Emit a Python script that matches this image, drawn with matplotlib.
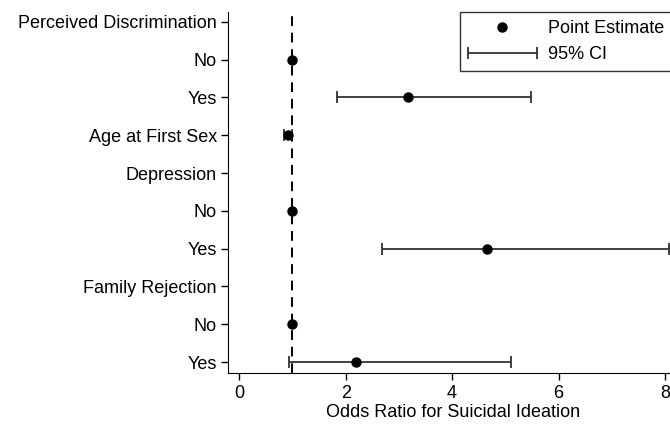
import numpy as np
import matplotlib.pyplot as plt
from matplotlib.lines import Line2D
from matplotlib.legend_handler import HandlerLine2D

plt.rcParams['font.family'] = ['Liberation Sans', 'DejaVu Sans']

# rows, top to bottom
labels = ['Perceived Discrimination', 'No', 'Yes', 'Age at First Sex',
          'Depression', 'No', 'Yes', 'Family Rejection', 'No', 'Yes']
est = [np.nan, 1.0, 3.17, 0.915, np.nan, 1.0, 4.66, np.nan, 1.0, 2.19]
ci_lo = [np.nan, np.nan, 1.83, 0.84, np.nan, np.nan, 2.68, np.nan, np.nan, 0.93]
ci_hi = [np.nan, np.nan, 5.48, 0.99, np.nan, np.nan, 8.07, np.nan, np.nan, 5.11]

est = np.array(est)
ci_lo = np.array(ci_lo)
ci_hi = np.array(ci_hi)
ypos = np.arange(len(labels))

W, H = 670, 424
fig = plt.figure(figsize=(W / 100, H / 100), dpi=100)
# axes run off the right edge of the figure (chart was cropped)
ax = fig.add_axes([228 / W, (H - 373) / H, 469 / W, 361 / H])

has_ci = ~np.isnan(ci_lo)
ax.errorbar(est[has_ci], ypos[has_ci],
            xerr=[est[has_ci] - ci_lo[has_ci], ci_hi[has_ci] - est[has_ci]],
            fmt='none', ecolor='#333333', elinewidth=1.3, capsize=4, capthick=1.3)
ax.plot(est, ypos, 'o', color='black', markersize=6.5, linestyle='none')
ax.axvline(1, color='black', linestyle=(0, (5, 3.5)), linewidth=1.4)

ax.set_xlim(-0.21, 8.6)
ax.set_ylim(9.29, -0.26)
ax.set_yticks(ypos)
ax.set_yticklabels(labels, fontsize=13)
ax.set_xticks([0, 2, 4, 6, 8])
ax.tick_params(axis='x', labelsize=13, length=5, width=1, direction='out', pad=4)
ax.tick_params(axis='y', length=5, width=1, direction='out', pad=3)
ax.spines['top'].set_visible(False)
ax.spines['right'].set_visible(False)
ax.set_xlabel('Odds Ratio for Suicidal Ideation', fontsize=13)
ax.xaxis.set_label_coords((453 - 228) / 469, -0.085)
ax.xaxis.label.set_va('top')

pt = Line2D([], [], marker='o', color='black', linestyle='none', markersize=6.5)
ci = Line2D([], [], color='#333333', linewidth=1.3, marker='|', markersize=9,
            markeredgewidth=1.3)
leg = fig.legend([pt, ci], ['Point Estimate', '95% CI'], loc='upper left',
                 bbox_to_anchor=(460 / W, 1 - 12 / H), fontsize=13,
                 handler_map={ci: HandlerLine2D(numpoints=2, marker_pad=0)},
                 frameon=True, fancybox=False, edgecolor='black', borderaxespad=0,
                 handlelength=3.8, borderpad=0.45, labelspacing=0.5, handletextpad=0.6)
leg.get_frame().set_linewidth(1.0)

fig.savefig('out.png', dpi=100)
